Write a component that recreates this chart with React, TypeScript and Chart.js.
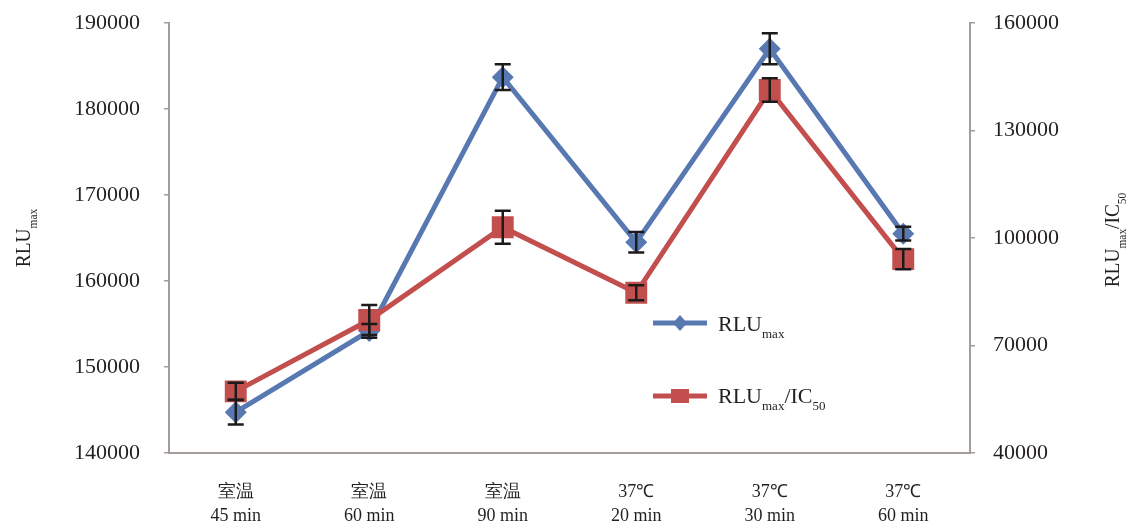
import React, { useEffect, useRef } from "react";
import { Chart, registerables } from "chart.js";

Chart.register(...registerables);

const categories: string[][] = [
  ["室温", "45 min"],
  ["室温", "60 min"],
  ["室温", "90 min"],
  ["37℃", "20 min"],
  ["37℃", "30 min"],
  ["37℃", "60 min"],
];
const rluMax = [144750, 154200, 183700, 164500, 187000, 165500];
const rluMaxErr = [1450, 800, 1500, 1200, 1800, 800];
const rluIc50 = [57200, 77100, 103000, 84700, 141300, 94100];
const rluIc50Err = [2400, 4200, 4600, 2100, 3300, 2800];
const leftTicks = [140000, 150000, 160000, 170000, 180000, 190000];
const rightTicks = [40000, 70000, 100000, 130000, 160000];

const BLUE = "#5878b2";
const RED = "#c24f4e";
const AXIS = "#a39c99";
const TEXT = "#231f20";
const SERIF = "'Liberation Serif', 'Times New Roman', serif";

type Part = { t: string; sub?: boolean };

function richWidth(ctx: CanvasRenderingContext2D, parts: Part[], size: number, subSize: number) {
  let w = 0;
  for (const p of parts) {
    ctx.font = `${p.sub ? subSize : size}px ${SERIF}`;
    w += ctx.measureText(p.t).width;
  }
  return w;
}

function drawRich(
  ctx: CanvasRenderingContext2D,
  parts: Part[],
  x: number,
  y: number,
  size: number,
  subSize: number,
  subOffset: number
) {
  let cx = x;
  ctx.textBaseline = "alphabetic";
  ctx.textAlign = "left";
  for (const p of parts) {
    ctx.font = `${p.sub ? subSize : size}px ${SERIF}`;
    ctx.fillText(p.t, cx, y + (p.sub ? subOffset : 0));
    cx += ctx.measureText(p.t).width;
  }
}

const errorBarPlugin = {
  id: "errorBars",
  afterDatasetsDraw(chart: any) {
    const ctx = chart.ctx as CanvasRenderingContext2D;
    const errs = [rluMaxErr, rluIc50Err];
    ctx.save();
    ctx.strokeStyle = "#1c1a1a";
    ctx.lineWidth = 2.5;
    chart.data.datasets.forEach((ds: any, i: number) => {
      const meta = chart.getDatasetMeta(i);
      const scale = chart.scales[meta.yAxisID];
      ds.data.forEach((v: number, j: number) => {
        const x = meta.data[j].x;
        const yt = scale.getPixelForValue(v + errs[i][j]);
        const yb = scale.getPixelForValue(v - errs[i][j]);
        ctx.beginPath();
        ctx.moveTo(x, yt);
        ctx.lineTo(x, yb);
        ctx.moveTo(x - 8, yt);
        ctx.lineTo(x + 8, yt);
        ctx.moveTo(x - 8, yb);
        ctx.lineTo(x + 8, yb);
        ctx.stroke();
      });
    });
    ctx.restore();
  },
};

const annotationPlugin = {
  id: "annotations",
  afterDraw(chart: any) {
    const ctx = chart.ctx as CanvasRenderingContext2D;
    const { left, top } = chart.chartArea;
    ctx.save();
    ctx.fillStyle = TEXT;

    // Legend
    const lx = left + 484;
    const ly1 = top + 300;
    const ly2 = top + 373;
    ctx.lineWidth = 5;
    ctx.strokeStyle = BLUE;
    ctx.beginPath();
    ctx.moveTo(lx, ly1);
    ctx.lineTo(lx + 54, ly1);
    ctx.stroke();
    ctx.fillStyle = BLUE;
    ctx.beginPath();
    ctx.moveTo(lx + 27, ly1 - 8);
    ctx.lineTo(lx + 34, ly1);
    ctx.lineTo(lx + 27, ly1 + 8);
    ctx.lineTo(lx + 20, ly1);
    ctx.closePath();
    ctx.fill();

    ctx.strokeStyle = RED;
    ctx.beginPath();
    ctx.moveTo(lx, ly2);
    ctx.lineTo(lx + 54, ly2);
    ctx.stroke();
    ctx.fillStyle = RED;
    ctx.fillRect(lx + 18, ly2 - 7, 18, 14);

    ctx.fillStyle = TEXT;
    drawRich(ctx, [{ t: "RLU" }, { t: "max", sub: true }], lx + 65, ly1 + 8, 22, 13, 7);
    drawRich(
      ctx,
      [{ t: "RLU" }, { t: "max", sub: true }, { t: "/IC" }, { t: "50", sub: true }],
      lx + 65,
      ly2 + 7,
      22,
      13,
      7
    );

    // Axis titles
    const leftParts: Part[] = [{ t: "RLU" }, { t: "max", sub: true }];
    const rightParts: Part[] = [{ t: "RLU" }, { t: "max", sub: true }, { t: "/IC" }, { t: "50", sub: true }];

    ctx.save();
    ctx.translate(23, 238);
    ctx.rotate(-Math.PI / 2);
    ctx.scale(0.88, 1);
    const wl = richWidth(ctx, leftParts, 22, 13);
    drawRich(ctx, leftParts, -wl / 2, 7, 22, 13, 7);
    ctx.restore();

    ctx.save();
    ctx.translate(1112, 240);
    ctx.rotate(-Math.PI / 2);
    ctx.scale(0.88, 1);
    const wr = richWidth(ctx, rightParts, 22, 13);
    drawRich(ctx, rightParts, -wr / 2, 7, 22, 13, 7);
    ctx.restore();

    ctx.restore();
  },
};

export default function App() {
  const ref = useRef<HTMLCanvasElement | null>(null);

  useEffect(() => {
    document.body.style.margin = "0";
    const canvas = ref.current;
    if (!canvas) return;
    const tickFont = { family: SERIF, size: 22 };
    const chart = new Chart(canvas, {
      type: "line",
      data: {
        labels: categories,
        datasets: [
          {
            label: "RLUmax",
            data: rluMax,
            yAxisID: "y",
            borderColor: BLUE,
            backgroundColor: BLUE,
            borderWidth: 5,
            pointStyle: "rectRot",
            pointRadius: 11,
            pointBorderWidth: 0,
            tension: 0,
            order: 1,
          },
          {
            label: "RLUmax/IC50",
            data: rluIc50,
            yAxisID: "y1",
            borderColor: RED,
            backgroundColor: RED,
            borderWidth: 5,
            pointStyle: "rect",
            pointRadius: 15.5,
            pointBorderWidth: 0,
            tension: 0,
            order: 0,
          },
        ],
      },
      options: {
        animation: false,
        responsive: false,
        events: [],
        layout: { padding: { top: 23, left: 0, right: 0, bottom: 0 } },
        plugins: { legend: { display: false }, tooltip: { enabled: false } },
        scales: {
          x: {
            offset: true,
            grid: { display: false, drawTicks: false },
            border: { color: AXIS, width: 2 },
            ticks: { font: { family: SERIF, size: 18, lineHeight: 1.35 }, color: TEXT, padding: 27, maxRotation: 0 },
            afterFit: (s: any) => {
              s.height = 75;
              s.paddingLeft = 0;
              s.paddingRight = 0;
            },
          },
          y: {
            position: "left",
            min: leftTicks[0],
            max: leftTicks[leftTicks.length - 1],
            afterBuildTicks: (s: any) => {
              s.ticks = leftTicks.map((v) => ({ value: v }));
            },
            grid: { drawOnChartArea: false, tickLength: 5, tickColor: AXIS, lineWidth: 1.5 },
            border: { color: AXIS, width: 2 },
            ticks: { font: tickFont, color: TEXT, padding: 24, callback: (v: any) => String(v) },
            afterFit: (s: any) => {
              s.width = 169;
              s.paddingTop = 0;
              s.paddingBottom = 0;
            },
          },
          y1: {
            position: "right",
            min: rightTicks[0],
            max: rightTicks[rightTicks.length - 1],
            afterBuildTicks: (s: any) => {
              s.ticks = rightTicks.map((v) => ({ value: v }));
            },
            grid: { drawOnChartArea: false, tickLength: 5, tickColor: AXIS, lineWidth: 1.5 },
            border: { color: AXIS, width: 2 },
            ticks: { font: tickFont, color: TEXT, padding: 18, callback: (v: any) => String(v) },
            afterFit: (s: any) => {
              s.width = 160;
              s.paddingTop = 0;
              s.paddingBottom = 0;
            },
          },
        },
      },
      plugins: [errorBarPlugin, annotationPlugin],
    } as any);
    return () => chart.destroy();
  }, []);

  return (
    <div style={{ width: 1130, height: 528, background: "#fff" }}>
      <canvas ref={ref} width={1130} height={528} />
    </div>
  );
}
